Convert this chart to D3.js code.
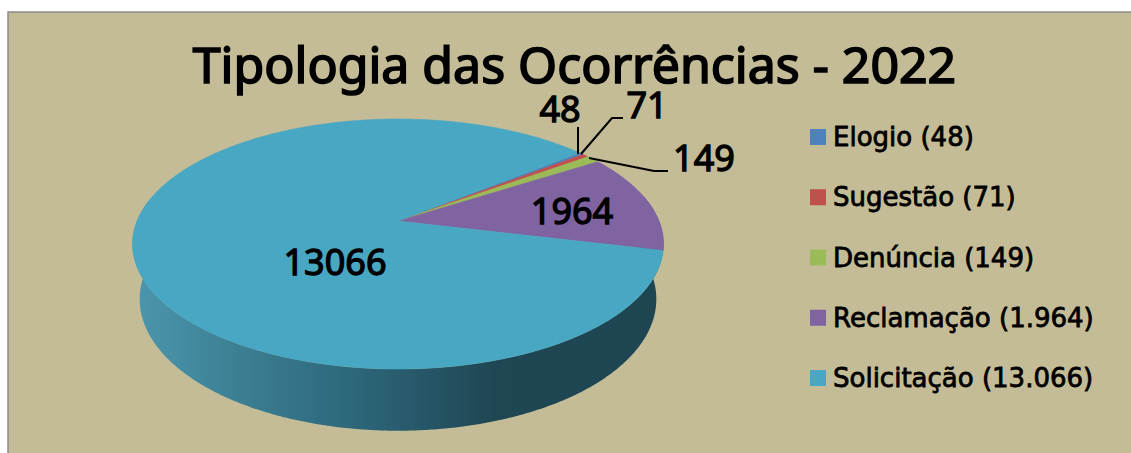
<!DOCTYPE html>
<html><head><meta charset="utf-8">
<script src="https://cdn.jsdelivr.net/npm/d3@7"></script>
<style>html,body{margin:0;padding:0;background:#fff}svg{display:block}text{font-family:"Noto Sans",sans-serif;fill:#000;stroke:#000}</style>
</head><body><svg id="c" width="1131" height="453"></svg>
<script>
const categories=["Elogio","Sugestão","Denúncia","Reclamação","Solicitação"];
const seriesValues=[48,71,149,1964,13066];
const legendLabels=["Elogio (48)","Sugestão (71)","Denúncia (149)","Reclamação (1.964)","Solicitação (13.066)"];
const dataLabels=["48","71","149","1964","13066"];
const colors=["#4f81bd","#c0504d","#9bbb59","#8064a2","#48a8c3"];

const svg=d3.select("#c");
svg.append("rect").attr("x",8).attr("y",12).attr("width",1130).attr("height",450).attr("fill","#c4bc96").attr("stroke","#8c8c8c").attr("stroke-width",1.5);

const defs=svg.append("defs");
const grad=defs.append("linearGradient").attr("id","side").attr("gradientUnits","userSpaceOnUse").attr("x1",133).attr("x2",664).attr("y1",0).attr("y2",0);
[[0,"#4b97ae"],[0.2,"#3c7f93"],[0.45,"#2b6376"],[0.68,"#1f4653"],[1,"#1d4552"]].forEach(d=>grad.append("stop").attr("offset",d[0]).attr("stop-color",d[1]));

// perspective projection of the pie disc
const cx=398,y0=221,R=261,h=120.8,k=0.184,m=0.027,d=56;
function project(a,z){const X=Math.sin(a),Y=Math.cos(a),w=1+k*Y+m*z;return [cx+R*X/w,y0+(-h*Y+d*z)/w];}
const line=d3.line().curve(d3.curveLinear);
const rad=Math.PI/180;
const start=51*rad;
const pie=d3.pie().sort(null).startAngle(start).endAngle(start+2*Math.PI);
const arcs=pie(seriesValues);
function arcPts(a0,a1,z){const n=Math.max(2,Math.ceil(Math.abs(a1-a0)/(0.5*rad)));return d3.range(n+1).map(i=>project(a0+(a1-a0)*i/n,z));}

// side wall
const sideA=78*rad,sideB=282*rad;
svg.append("path").attr("d",line(arcPts(sideA,sideB,0).concat(arcPts(sideB,sideA,1)))+"Z").attr("fill","url(#side)");
// top slices
svg.append("g").selectAll("path").data(arcs).join("path")
 .attr("d",a=>line([[cx,y0]].concat(arcPts(a.startAngle,a.endAngle,0)))+"Z")
 .attr("fill",(a,i)=>colors[i]).attr("stroke",(a,i)=>colors[i]).attr("stroke-width",0.5);

// leader lines
const leaders=[[[578,127],[578,154]],[[623,118],[612,118],[581,154]],[[668,171],[654,171],[589,158]]];
svg.append("g").selectAll("path").data(leaders).join("path").attr("d",p=>line(p)).attr("fill","none").attr("stroke","#000").attr("stroke-width",2);

// title
svg.append("text").attr("x",574.5).attr("y",83).attr("text-anchor","middle").attr("font-size",50).attr("stroke-width",1.7).text("Tipologia das Ocorrências - 2022");

// data labels
const labelPos=[[560,122],[647,118],[704,171],[572,224],[335,275]];
svg.append("g").selectAll("text").data(dataLabels).join("text").attr("x",(t,i)=>labelPos[i][0]).attr("y",(t,i)=>labelPos[i][1]).attr("text-anchor","middle").attr("font-size",36).attr("stroke-width",1.3).text(t=>t);

// legend
const ly=d3.scalePoint().domain(categories).range([137,378]);
const lg=svg.append("g").selectAll("g").data(categories).join("g").attr("transform",c=>`translate(810,${ly(c)})`);
lg.append("rect").attr("x",0).attr("y",-8).attr("width",16).attr("height",16).attr("fill",(c,i)=>colors[i]);
lg.append("text").attr("x",23).attr("y",9).style("font-family","'DejaVu Sans'").attr("font-size",26).attr("stroke-width",0.8).text((c,i)=>legendLabels[i]);
</script></body></html>
